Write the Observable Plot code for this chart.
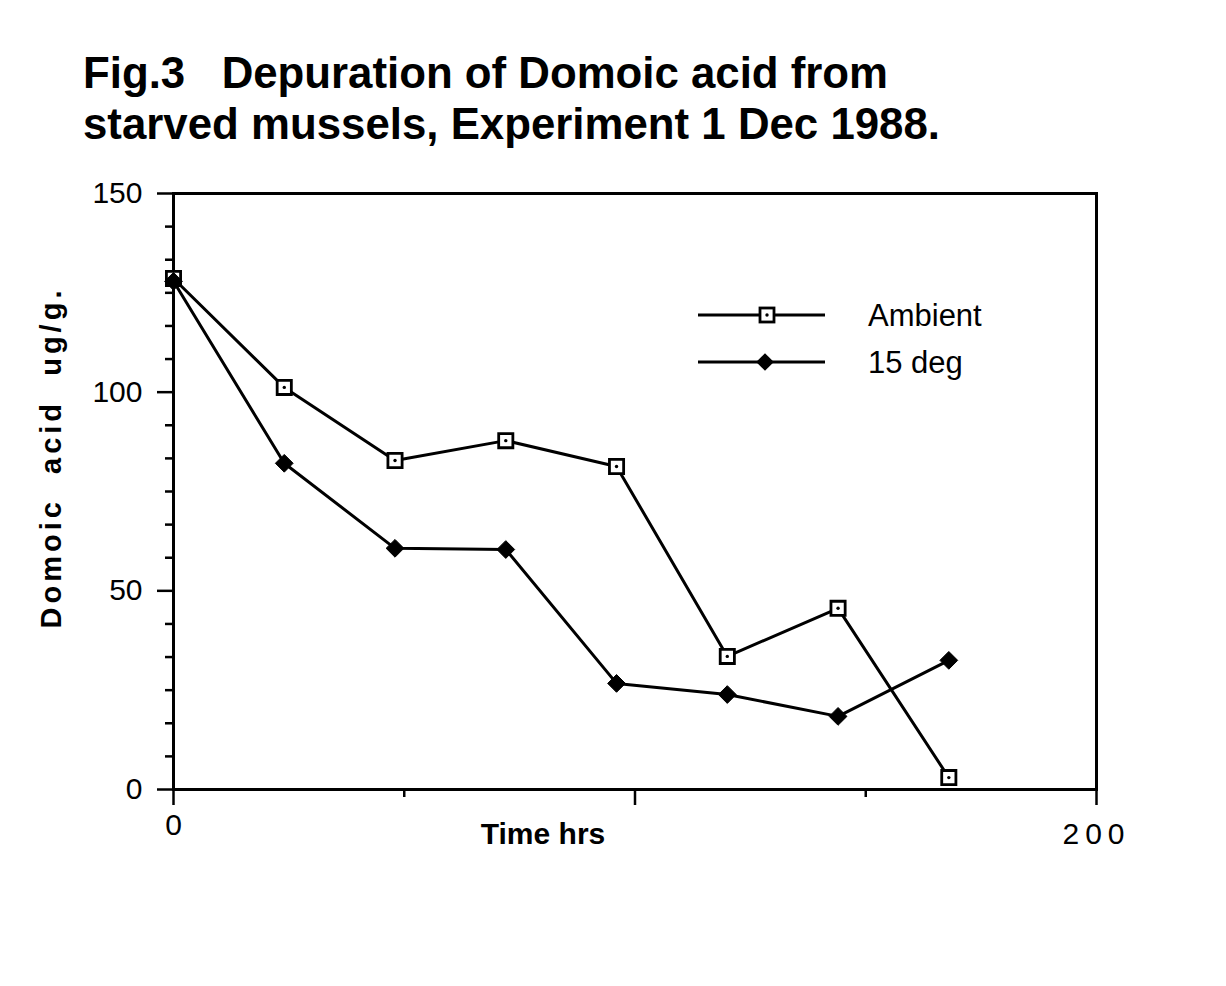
<!DOCTYPE html>
<html>
<head>
<meta charset="utf-8">
<script src="https://cdn.jsdelivr.net/npm/d3@7"></script>
<script src="https://cdn.jsdelivr.net/npm/@observablehq/plot@0.6"></script>
<style>
  html, body { margin: 0; padding: 0; background: #fff; }
  #wrap { position: relative; width: 1226px; height: 986px; overflow: hidden; background: #fff; }
  #title, #chart, #legend { position: absolute; left: 0; }
  #title { top: 0; }
  #chart { top: 170px; }
  #legend { top: 0; }
  #chart svg { overflow: visible; }
  text { font-family: "Liberation Sans", Arial, Helvetica, sans-serif; }
</style>
</head>
<body>
<div id="wrap">
  <svg id="title" width="1226" height="170"></svg>
  <div id="chart"></div>
  <svg id="legend" width="1226" height="986" style="pointer-events:none"></svg>
</div>
<script>
// ---- data ----
const hours   = [0, 24, 48, 72, 96, 120, 144, 168];
const ambient = [128.6, 101.2, 82.8, 87.8, 81.3, 33.5, 45.6, 3.0];
const deg15   = [127.9, 82.1, 60.7, 60.4, 26.7, 23.9, 18.4, 32.5];
const seriesNames = ["Ambient", "15 deg"];

const yMajorTicks = [0, 50, 100, 150];
const yMinorTicks = [8.333, 16.667, 25, 33.333, 41.667, 58.333, 66.667, 75, 83.333, 91.667,
                     108.333, 116.667, 125, 133.333, 141.667];
const xLongTicks = [0, 100, 200];
const xShortTicks = [50, 150];
const xStartLabel = [0];
const xEndLabel = [200];

const titleLines = ["Fig.3   Depuration of Domoic acid from", "starved mussels, Experiment 1 Dec 1988."];
const xTitle = "Time hrs";
const yTitle = "Domoic  acid  ug/g.";

const ambData = hours.map((h, i) => ({h, v: ambient[i]}));
const degData = hours.map((h, i) => ({h, v: deg15[i]}));

// ---- title ----
const tsvg = d3.select("#title");
const tFont = "'Liberation Sans', Arial, Helvetica, sans-serif";
[[titleLines[0], 88, 805], [titleLines[1], 139, 857]].forEach(([t, y, w]) => {
  tsvg.append("text").attr("x", 83).attr("y", y)
    .attr("font-size", 44).attr("font-weight", "bold").attr("font-family", tFont)
    .attr("textLength", w).attr("lengthAdjust", "spacingAndGlyphs")
    .attr("fill", "#000").attr("xml:space", "preserve").text(t);
});

// ---- chart ----
const chart = Plot.plot({
  width: 1226,
  height: 816,
  marginLeft: 173,
  marginRight: 130,
  marginTop: 23,
  marginBottom: 197,
  style: {fontFamily: "'Liberation Sans', Arial, Helvetica, sans-serif", background: "#fff", color: "#000", overflow: "visible"},
  x: {domain: [0, 200]},
  y: {domain: [0, 150]},
  marks: [
    Plot.frame({stroke: "#000", strokeWidth: 3}),
    Plot.axisY(yMajorTicks, {tickSize: 16, tickPadding: 15, fontSize: 30, strokeWidth: 2.5, label: null}),
    Plot.axisY(yMinorTicks, {tickSize: 8, tickFormat: () => "", strokeWidth: 2.5, label: null}),
    Plot.axisX(xLongTicks, {tickSize: 16, tickFormat: () => "", strokeWidth: 2.5, label: null}),
    Plot.axisX(xShortTicks, {tickSize: 8, tickFormat: () => "", strokeWidth: 2.5, label: null}),
    Plot.text(xStartLabel, {x: d => d, text: d => String(d), frameAnchor: "bottom", dy: 45, fontSize: 30}),
    Plot.text(xEndLabel, {x: d => d, text: d => String(d), frameAnchor: "bottom", dy: 54, fontSize: 30}),
    Plot.text([xTitle], {frameAnchor: "bottom", dx: -92, dy: 54, fontSize: 30, fontWeight: "bold"}),
    Plot.text([yTitle], {frameAnchor: "left", textAnchor: "middle", rotate: -90, dx: -122, dy: -34, fontSize: 29, fontWeight: "bold"}),
    Plot.line(ambData, {x: "h", y: "v", stroke: "#000", strokeWidth: 3}),
    Plot.line(degData, {x: "h", y: "v", stroke: "#000", strokeWidth: 3}),
    Plot.dot(ambData, {x: "h", y: "v", symbol: "square", r: 8, fill: "#fff", stroke: "#000", strokeWidth: 2.8}),
    Plot.dot(ambData, {x: "h", y: "v", r: 1.7, fill: "#000", stroke: null}),
    Plot.dot(degData, {x: "h", y: "v", symbol: "diamond2", r: 8, fill: "#000", stroke: "#000", strokeWidth: 1})
  ]
});
document.getElementById("chart").appendChild(chart);

// letter spacing tweaks
d3.select(chart).selectAll("text").each(function() {
  const s = d3.select(this);
  const t = s.text();
  if (t === yTitle) s.style("letter-spacing", "4px").style("white-space", "pre").attr("xml:space", "preserve");
  if (t === "200") s.style("letter-spacing", "6px");
});

// ---- legend ----
const lsvg = d3.select("#legend");
const legendRows = [
  {name: seriesNames[0], y: 315, kind: "square"},
  {name: seriesNames[1], y: 362, kind: "diamond"}
];
legendRows.forEach(r => {
  lsvg.append("line").attr("x1", 698).attr("x2", 825).attr("y1", r.y).attr("y2", r.y)
    .attr("stroke", "#000").attr("stroke-width", 2.8);
  if (r.kind === "square") {
    lsvg.append("rect").attr("x", 767 - 7).attr("y", r.y - 7).attr("width", 14).attr("height", 14)
      .attr("fill", "#fff").attr("stroke", "#000").attr("stroke-width", 2.8);
    lsvg.append("circle").attr("cx", 767).attr("cy", r.y).attr("r", 1.7).attr("fill", "#000");
  } else {
    lsvg.append("path").attr("d", d3.symbol(d3.symbolDiamond2, 200)())
      .attr("transform", `translate(765,${r.y})`).attr("fill", "#000");
  }
  lsvg.append("text").attr("x", 868).attr("y", r.y + 11).attr("font-size", 31)
    .attr("font-family", tFont).attr("fill", "#000").text(r.name);
});
</script>
</body>
</html>
